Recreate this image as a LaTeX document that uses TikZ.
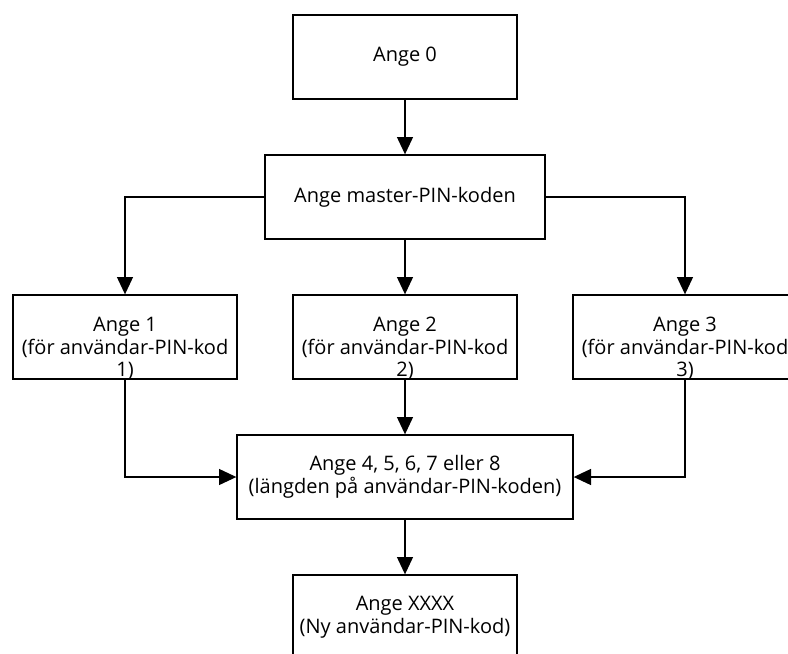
\documentclass[tikz,border=0pt]{standalone}
\usepackage{fontspec}
\setmainfont{Open Sans}
\usepackage{tikz}
\usetikzlibrary{arrows.meta,calc,positioning}
%Text oben im Kasten beginnen, damit die dritte Zeile unten herausragt
\newcommand{\obentext}[1]{\parbox[c][30pt][t]{168pt}{\centering #1}}

\begin{document}
\begin{tikzpicture}[x=0.75pt,y=-0.75pt,
  kasten/.style={draw,line width=1pt,minimum width=168pt,minimum height=63pt,inner sep=0pt,align=center,font=\fontsize{15}{17}\selectfont},
  pfeil/.style={line width=1pt,-{Triangle[width=12pt,length=13pt]}}]
%Koordinaten in Pixel des Originals (788x653)
  \pgfmathsetmacro{\xMitte}{405}
  \pgfmathsetmacro{\xAbstand}{280}
\clip (0,0) rectangle (788,653);
\node[kasten] (ange0) at (\xMitte,57) {Ange 0};
\node[kasten,minimum width=210pt] (master) at (\xMitte,197) {Ange master-PIN-koden};
\foreach \nr in {1,2,3}{
\node[kasten] (ange\nr) at (\xMitte+\nr*\xAbstand-2*\xAbstand,337) {\obentext{Ange \nr\\(för användar-PIN-kod\\\nr)}};
}
\node[kasten,minimum width=252pt] (laenge) at (\xMitte,477) {Ange 4, 5, 6, 7 eller 8\\(längden på användar-PIN-koden)};
\node[kasten] (neu) at (\xMitte,617) {Ange XXXX\\(Ny användar-PIN-kod)};
%Pfeile
\draw[pfeil] (ange0) -- (master);
\draw[pfeil] (master) -- (ange2);
\draw[pfeil] (master.west) -| (ange1.north);
\draw[pfeil] (master.east) -| (ange3.north);
\draw[pfeil] (ange2) -- (laenge);
\draw[pfeil] (ange1.south) |- (laenge.west);
\draw[pfeil] (ange3.south) |- (laenge.east);
\draw[pfeil] (laenge) -- (neu);
\end{tikzpicture}
\end{document}
